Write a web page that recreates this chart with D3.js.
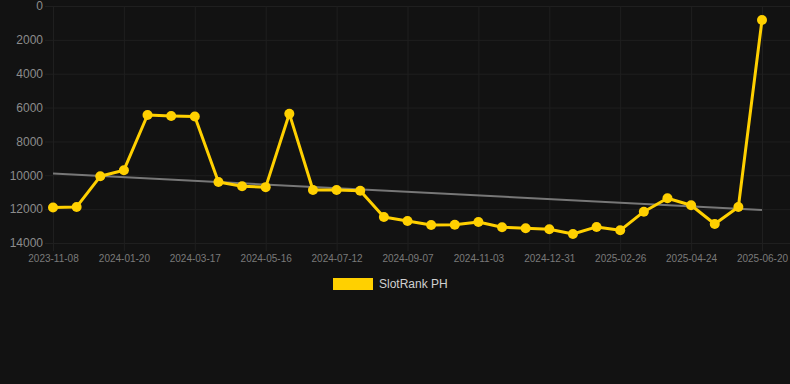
<!DOCTYPE html>
<html>
<head>
<meta charset="utf-8">
<script src="https://cdn.jsdelivr.net/npm/d3@7"></script>
<style>
  html, body { margin: 0; padding: 0; background: #121212; }
  svg { display: block; font-family: "Liberation Sans", Arial, sans-serif; }
  .grid line { stroke: #1f1f1f; stroke-width: 1; }
  .grid path { display: none; }
</style>
</head>
<body>
<svg width="790" height="384"></svg>
<script>
// categories (one per point), only every third one gets a label
const dates = [
  '2023-11-08', '2023-12-02', '2023-12-26', '2024-01-20', '2024-02-08', '2024-02-27',
  '2024-03-17', '2024-04-06', '2024-04-26', '2024-05-16', '2024-06-04', '2024-06-23',
  '2024-07-12', '2024-07-31', '2024-08-19', '2024-09-07', '2024-09-26', '2024-10-15',
  '2024-11-03', '2024-11-22', '2024-12-12', '2024-12-31', '2025-01-19', '2025-02-07',
  '2025-02-26', '2025-03-17', '2025-04-05', '2025-04-24', '2025-05-13', '2025-06-01',
  '2025-06-20'
];
const rankValues = [
  11900, 11870, 10060, 9700, 6440, 6500,
  6530, 10400, 10650, 10700, 6360, 10870,
  10870, 10910, 12460, 12700, 12940, 12920,
  12760, 13070, 13130, 13190, 13470, 13050,
  13250, 12150, 11360, 11770, 12880, 11870,
  830
];
// trend line, start and end value
const trendValues = [9900, 12050];
const yTicks = [0, 2000, 4000, 6000, 8000, 10000, 12000, 14000];
const xTickLabels = dates.filter((d, i) => i % 3 === 0);
const seriesName = 'SlotRank PH';

const svg = d3.select('svg');
const plotLeft = 53, plotRight = 762, gridRight = 790;
const plotTop = 6, plotBottom = 243;
const gold = '#ffd000';

const x = d3.scalePoint()
    .domain(dates)
    .range([plotLeft, plotRight]);

const y = d3.scaleLinear()
    .domain([0, 14000])
    .range([plotTop, plotBottom]);

// horizontal grid
svg.append('g')
    .attr('class', 'grid')
    .attr('transform', `translate(${gridRight}, 0)`)
    .call(d3.axisLeft(y).tickValues(yTicks).tickSize(gridRight - plotLeft + 8).tickFormat(''));

// vertical grid
svg.append('g')
    .attr('class', 'grid')
    .attr('transform', `translate(0, ${plotBottom + 8})`)
    .call(d3.axisTop(x).tickValues(xTickLabels).tickSize(plotBottom + 8 - plotTop).tickFormat(''));

// y labels
const yAxis = svg.append('g')
    .attr('transform', `translate(${plotLeft}, 0)`)
    .call(d3.axisLeft(y).tickValues(yTicks).tickFormat(d3.format('d')).tickSize(0).tickPadding(10));
yAxis.select('.domain').remove();
yAxis.selectAll('text')
    .attr('fill', '#8c8c8c')
    .style('font-size', '12px');

// x labels
const xAxis = svg.append('g')
    .attr('transform', `translate(0, ${plotBottom})`)
    .call(d3.axisBottom(x).tickValues(xTickLabels).tickSize(0).tickPadding(12));
xAxis.select('.domain').remove();
xAxis.selectAll('text')
    .attr('fill', '#7a7a7a')
    .style('font-size', '10px');

// trend line
svg.append('line')
    .attr('x1', x(dates[0]))
    .attr('y1', y(trendValues[0]))
    .attr('x2', x(dates[dates.length - 1]))
    .attr('y2', y(trendValues[1]))
    .attr('stroke', '#777')
    .attr('stroke-width', 2);

// series line
const line = d3.line()
    .x((d, i) => x(dates[i]))
    .y(d => y(d));

svg.append('path')
    .datum(rankValues)
    .attr('d', line)
    .attr('fill', 'none')
    .attr('stroke', gold)
    .attr('stroke-width', 3)
    .attr('stroke-linejoin', 'round');

svg.selectAll('.dot')
    .data(rankValues)
    .enter()
    .append('circle')
    .attr('class', 'dot')
    .attr('cx', (d, i) => x(dates[i]))
    .attr('cy', d => y(d))
    .attr('r', 5)
    .attr('fill', gold);

// legend
svg.append('rect')
    .attr('x', 333)
    .attr('y', 278)
    .attr('width', 40)
    .attr('height', 12)
    .attr('fill', gold);

svg.append('text')
    .attr('x', 379)
    .attr('y', 284)
    .attr('dominant-baseline', 'central')
    .attr('fill', '#d0d0d0')
    .style('font-size', '12px')
    .text(seriesName);
</script>
</body>
</html>
